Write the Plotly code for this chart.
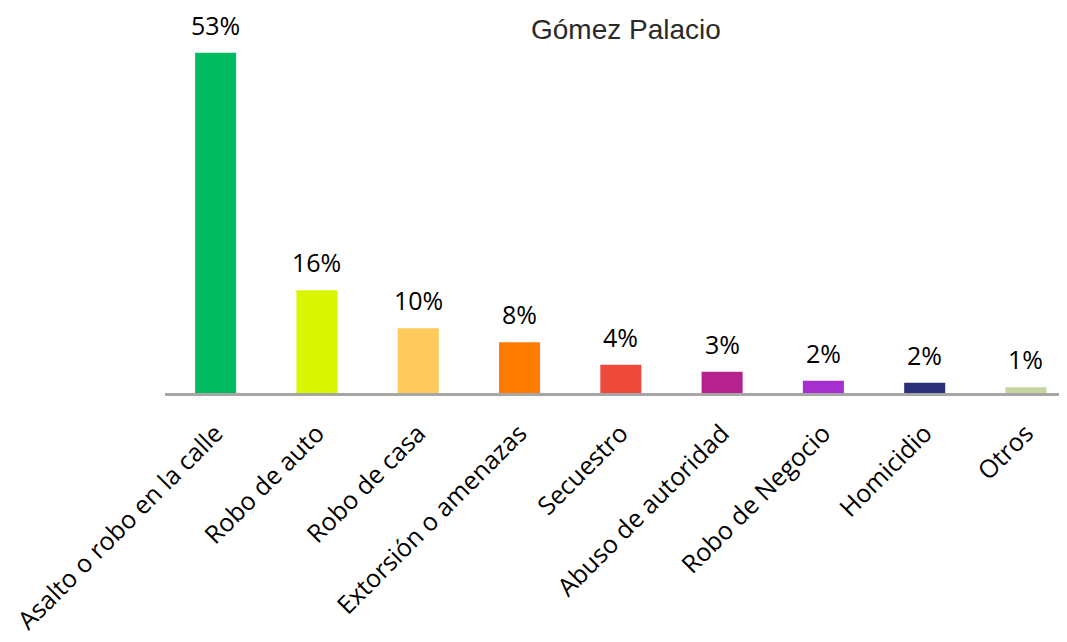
import plotly.graph_objects as go

categories = ["Asalto o robo en la calle", "Robo de auto", "Robo de casa",
              "Extorsión o amenazas", "Secuestro", "Abuso de autoridad",
              "Robo de Negocio", "Homicidio", "Otros"]
values = [53, 16, 10.1, 7.9, 4.4, 3.3, 1.9, 1.6, 0.9]
labels = ["53%", "16%", "10%", "8%", "4%", "3%", "2%", "2%", "1%"]
colors = ["#00BB62", "#DAF500", "#FFCA5C", "#FF7C00", "#EE4A3C",
          "#B5218D", "#A62FD0", "#2B2F78", "#C4D5A2"]

fig = go.Figure()
fig.add_trace(go.Bar(x=categories, y=values, marker=dict(color=colors, line=dict(width=0)),
                     width=0.405, showlegend=False, hoverinfo="skip"))

for c, v, t in zip(categories, values, labels):
    fig.add_annotation(x=c, y=v, text=t, showarrow=False, yanchor="bottom",
                       yshift=10, borderpad=0,
                       font=dict(family="Open Sans", size=25, color="#000000"))

fig.add_annotation(xref="paper", yref="paper", x=0.511, y=0.943, text="Gómez Palacio",
                   showarrow=False, xanchor="center", yanchor="middle",
                   font=dict(family="Liberation Sans", size=28, color="#2a2a2a"))

fig.update_layout(
    width=1067, height=642,
    margin=dict(l=157, r=8, t=0, b=257),
    plot_bgcolor="white", paper_bgcolor="white",
    xaxis=dict(range=[-0.5, 8.405], tickangle=-45, showgrid=False,
               ticks="outside", ticklen=13, tickcolor="rgba(0,0,0,0)",
               showline=True, linecolor="#A6A6A6", linewidth=2.5,
               tickfont=dict(family="Open Sans", size=25, color="#000000")),
    yaxis=dict(range=[0, 385 / 6.42], visible=False, showgrid=False, zeroline=False),
)

fig.write_html("out.html")
